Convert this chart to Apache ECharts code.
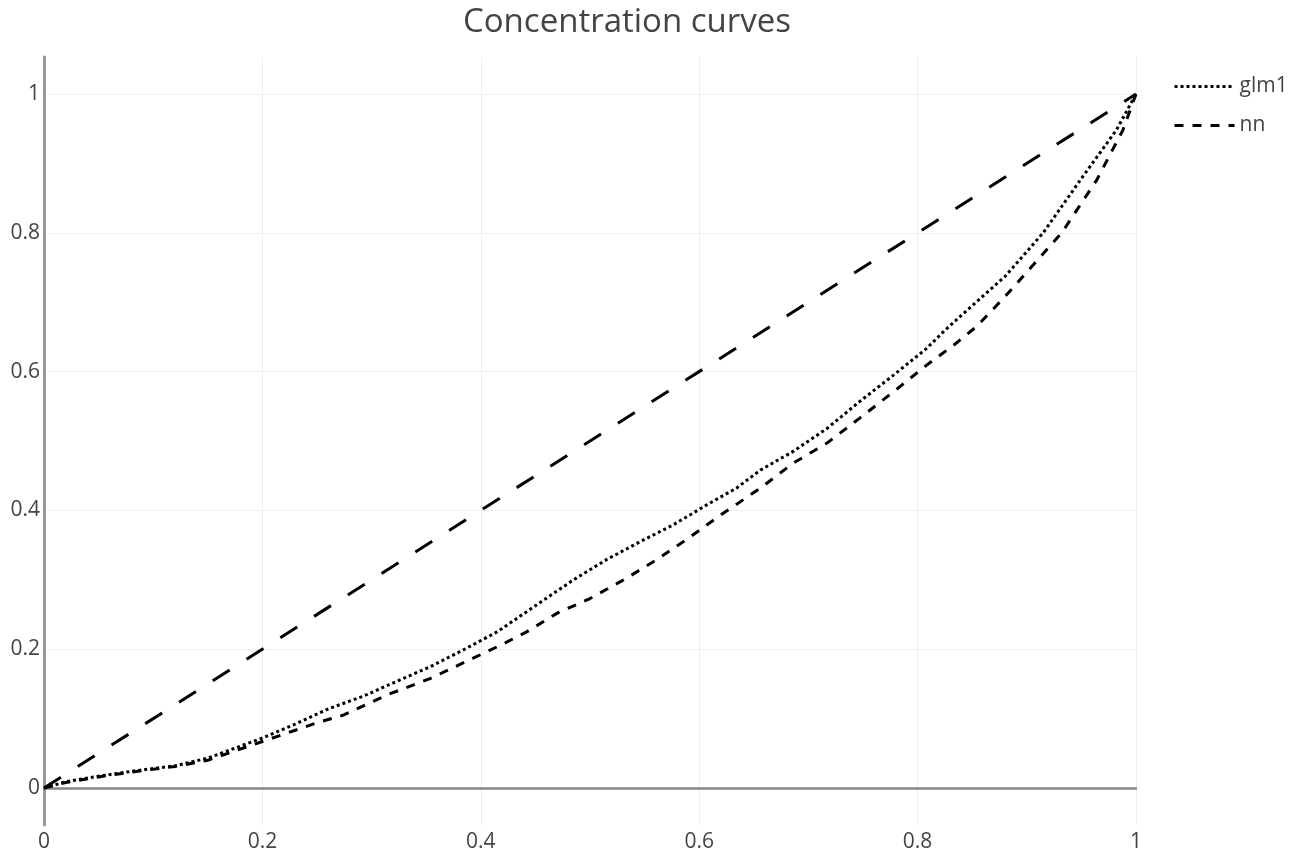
<!DOCTYPE html>
<html>
<head>
<meta charset="utf-8">
<title>Concentration curves</title>
<script src="https://cdn.jsdelivr.net/npm/echarts@6/dist/echarts.min.js"></script>
<style>
    html, body { margin: 0; padding: 0; background: #fff; }
    #main { width: 1309px; height: 858px; }
</style>
</head>
<body>
<div id="main"></div>
<script>
    // x / y pairs
    var glm1X = [0, 0.02, 0.05, 0.08, 0.12, 0.15, 0.2, 0.23, 0.262, 0.292, 0.322, 0.354, 0.384, 0.415, 0.442, 0.454, 0.485, 0.515, 0.546, 0.576, 0.607, 0.634, 0.656, 0.686, 0.717, 0.747, 0.778, 0.808, 0.824, 0.85, 0.88, 0.915, 0.949, 0.982, 1];
    var glm1Y = [0, 0.009, 0.017, 0.024, 0.032, 0.043, 0.072, 0.092, 0.115, 0.132, 0.153, 0.175, 0.199, 0.225, 0.254, 0.267, 0.30, 0.329, 0.355, 0.379, 0.408, 0.432, 0.458, 0.485, 0.518, 0.557, 0.595, 0.633, 0.658, 0.695, 0.737, 0.80, 0.876, 0.948, 1];
    var nnX = [0, 0.02, 0.05, 0.08, 0.12, 0.15, 0.2, 0.25, 0.274, 0.314, 0.354, 0.393, 0.421, 0.442, 0.47, 0.5, 0.531, 0.561, 0.592, 0.622, 0.656, 0.686, 0.717, 0.747, 0.778, 0.808, 0.833, 0.854, 0.88, 0.932, 0.964, 0.988, 1];
    var nnY = [0, 0.008, 0.016, 0.023, 0.031, 0.040, 0.067, 0.094, 0.105, 0.134, 0.158, 0.187, 0.208, 0.225, 0.252, 0.273, 0.30, 0.329, 0.362, 0.396, 0.432, 0.468, 0.497, 0.533, 0.571, 0.609, 0.638, 0.665, 0.708, 0.80, 0.876, 0.948, 1];
    var diagX = [0, 1];
    var diagY = [0, 1];
    var tickLabels = ['0', '0.2', '0.4', '0.6', '0.8', '1'];

    function pairs(xs, ys) {
        var out = [];
        for (var i = 0; i < xs.length; i++) {
            out.push([xs[i], ys[i]]);
        }
        return out;
    }
    function fmt(v) {
        var idx = Math.round(v / 0.2);
        return tickLabels[idx] !== undefined ? tickLabels[idx] : '';
    }

    var font = '"Open Sans", "Noto Sans", sans-serif';
    var myChart = echarts.init(document.getElementById('main'), null, { renderer: 'canvas' });

    var option = {
        animation: false,
        backgroundColor: '#fff',
        title: {
            text: 'Concentration curves',
            left: 622,
            top: 1,
            textAlign: 'center',
            textStyle: { fontFamily: font, fontSize: 33, fontWeight: 'normal', color: '#444' }
        },
        legend: {
            data: ['glm1', 'nn'],
            orient: 'vertical',
            left: 1168,
            top: 71,
            itemWidth: 60,
            itemHeight: 14,
            itemGap: 18,
            itemStyle: { color: 'transparent', borderWidth: 0, opacity: 0 },
            lineStyle: { width: 3 },
            textStyle: { fontFamily: font, fontSize: 21, color: '#444' }
        },
        grid: [
            // outer box: vertical grid lines and y axis line
            { left: 44, right: 173, top: 57, bottom: 33 },
            // inner box: data area 0..1
            { left: 44, right: 173, top: 94, bottom: 70 }
        ],
        xAxis: [{
            gridIndex: 0,
            type: 'value',
            min: 0, max: 1, interval: 0.2,
            axisLine: { show: false },
            axisTick: { show: false },
            splitLine: { show: true, lineStyle: { color: '#eee', width: 1 } },
            axisLabel: { margin: 7, formatter: fmt, fontFamily: font, fontSize: 21, color: '#444' }
        }, {
            gridIndex: 1,
            type: 'value',
            min: 0, max: 1, interval: 0.2,
            axisLine: { show: true, lineStyle: { color: '#888', width: 2.5 } },
            axisTick: { show: false },
            splitLine: { show: false },
            axisLabel: { show: false }
        }],
        yAxis: [{
            gridIndex: 0,
            type: 'value',
            min: -0.0533, max: 1.0533,
            axisLine: { show: true, lineStyle: { color: '#999', width: 3 } },
            axisTick: { show: false },
            splitLine: { show: false },
            axisLabel: { show: false }
        }, {
            gridIndex: 1,
            type: 'value',
            min: 0, max: 1, interval: 0.2,
            axisLine: { show: false },
            axisTick: { show: false },
            splitLine: { show: true, lineStyle: { color: '#eee', width: 1 } },
            axisLabel: { margin: 4, formatter: fmt, fontFamily: font, fontSize: 21, color: '#444' }
        }],
        series: [{
            name: 'glm1',
            type: 'line',
            xAxisIndex: 1, yAxisIndex: 1,
            data: pairs(glm1X, glm1Y),
            showSymbol: false, symbol: 'none',
            clip: false, silent: true,
            color: '#000',
            lineStyle: { color: '#000', width: 3, type: [3, 3] }
        }, {
            name: 'nn',
            type: 'line',
            xAxisIndex: 1, yAxisIndex: 1,
            data: pairs(nnX, nnY),
            showSymbol: false, symbol: 'none',
            clip: false, silent: true,
            color: '#000',
            lineStyle: { color: '#000', width: 3, type: [9, 9] }
        }, {
            name: 'diagonal',
            type: 'line',
            xAxisIndex: 1, yAxisIndex: 1,
            data: pairs(diagX, diagY),
            showSymbol: false, symbol: 'none',
            clip: false, silent: true,
            color: '#000',
            lineStyle: { color: '#000', width: 3, type: [20, 20] }
        }]
    };
    myChart.setOption(option);
</script>
</body>
</html>
